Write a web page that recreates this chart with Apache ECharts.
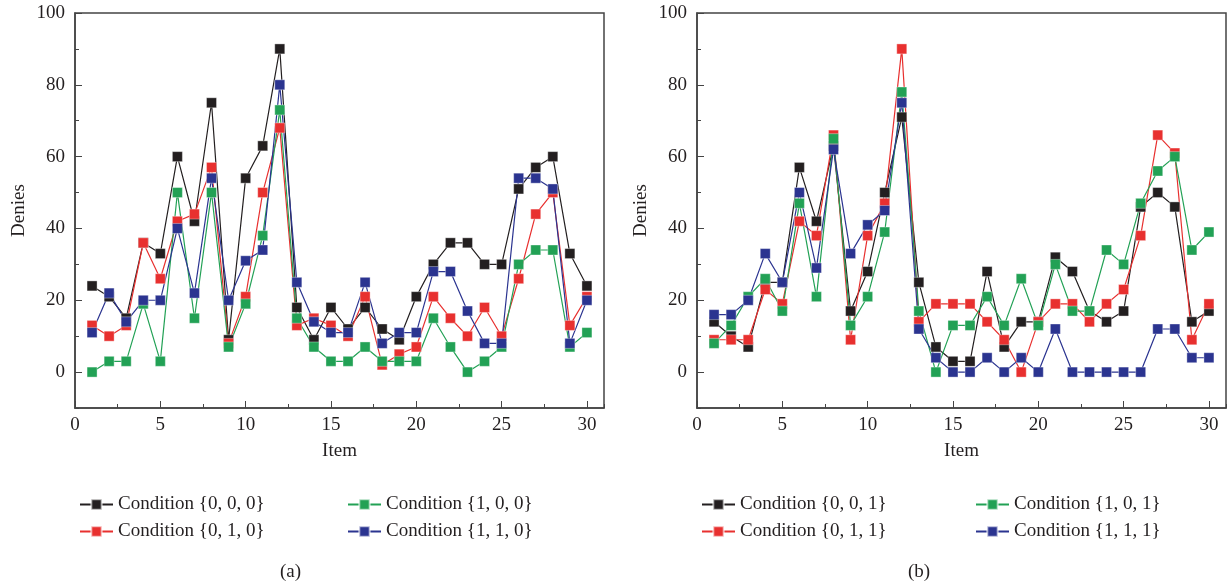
<!DOCTYPE html>
<html>
<head>
<meta charset="utf-8">
<script src="https://cdn.jsdelivr.net/npm/echarts@6/dist/echarts.min.js"></script>
<style>
  html, body { margin: 0; padding: 0; background: #fff; }
  #main { width: 1228px; height: 584px; }
</style>
</head>
<body>
<div id="main"></div>
<script>
// x positions (items)
const items = [1, 2, 3, 4, 5, 6, 7, 8, 9, 10, 11, 12, 13, 14, 15, 16, 17, 18, 19, 20, 21, 22, 23, 24, 25, 26, 27, 28, 29, 30]
const yTicks = [0, 20, 40, 60, 80, 100]
const xTicks = [0, 5, 10, 15, 20, 25, 30]

// panel (a)
const c000 = [24, 21, 15, 36, 33, 60, 42, 75, 9, 54, 63, 90, 18, 9, 18, 12, 18, 12, 9, 21, 30, 36, 36, 30, 30, 51, 57, 60, 33, 24]
const c010 = [13, 10, 13, 36, 26, 42, 44, 57, 8, 21, 50, 68, 13, 15, 13, 10, 21, 2, 5, 7, 21, 15, 10, 18, 10, 26, 44, 50, 13, 21]
const c100 = [0, 3, 3, 19, 3, 50, 15, 50, 7, 19, 38, 73, 15, 7, 3, 3, 7, 3, 3, 3, 15, 7, 0, 3, 7, 30, 34, 34, 7, 11]
const c110 = [11, 22, 14, 20, 20, 40, 22, 54, 20, 31, 34, 80, 25, 14, 11, 11, 25, 8, 11, 11, 28, 28, 17, 8, 8, 54, 54, 51, 8, 20]

// panel (b)
const c001 = [14, 10, 7, 25, 25, 57, 42, 63, 17, 28, 50, 71, 25, 7, 3, 3, 28, 7, 14, 14, 32, 28, 17, 14, 17, 46, 50, 46, 14, 17]
const c011 = [9, 9, 9, 23, 19, 42, 38, 66, 9, 38, 47, 90, 14, 19, 19, 19, 14, 9, 0, 14, 19, 19, 14, 19, 23, 38, 66, 61, 9, 19]
const c101 = [8, 13, 21, 26, 17, 47, 21, 65, 13, 21, 39, 78, 17, 0, 13, 13, 21, 13, 26, 13, 30, 17, 17, 34, 30, 47, 56, 60, 34, 39]
const c111 = [16, 16, 20, 33, 25, 50, 29, 62, 33, 41, 45, 75, 12, 4, 0, 0, 4, 0, 4, 0, 12, 0, 0, 0, 0, 0, 12, 12, 4, 4]

const namesA = ['Condition {0, 0, 0}', 'Condition {0, 1, 0}', 'Condition {1, 0, 0}', 'Condition {1, 1, 0}']
const namesB = ['Condition {0, 0, 1}', 'Condition {0, 1, 1}', 'Condition {1, 0, 1}', 'Condition {1, 1, 1}']
const colors = ['#231f20', '#e8302f', '#22a155', '#2b3490']

const font = 'Liberation Serif'
const ink = '#231f20'

const grids = [
  { left: 75, top: 13, width: 529, height: 395 },
  { left: 697, top: 13, width: 529, height: 395 }
]

let xAxis = []
let yAxis = []
grids.forEach((g, i) => {
  // main axes
  xAxis.push({
    type: 'value', gridIndex: i, min: 0, max: 31, position: 'bottom',
    name: 'Item', nameLocation: 'middle', nameGap: 34,
    nameTextStyle: { fontFamily: font, fontSize: 19, color: ink },
    axisLine: { onZero: false, lineStyle: { color: '#444', width: 1.5 } },
    axisTick: { inside: true, length: 7, customValues: xTicks, lineStyle: { color: '#444' } },
    axisLabel: { customValues: xTicks, fontFamily: font, fontSize: 19, color: ink, margin: 8 },
    splitLine: { show: false }
  })
  // minor ticks
  xAxis.push({
    type: 'value', gridIndex: i, min: 0, max: 31, interval: 2.5, position: 'bottom',
    axisLine: { show: false, onZero: false },
    axisTick: { inside: true, length: 4, lineStyle: { color: '#444' } },
    axisLabel: { show: false },
    splitLine: { show: false }
  })
  yAxis.push({
    type: 'value', gridIndex: i, min: -10, max: 100, position: 'left',
    name: 'Denies', nameLocation: 'middle', nameGap: 46, nameRotate: 90,
    nameTextStyle: { fontFamily: font, fontSize: 19, color: ink },
    axisLine: { show: true, onZero: false, lineStyle: { color: '#444', width: 1.5 } },
    axisTick: { show: true, inside: true, length: 7, customValues: yTicks, lineStyle: { color: '#444' } },
    axisLabel: { customValues: yTicks, fontFamily: font, fontSize: 19, color: ink, margin: 10 },
    splitLine: { show: false }
  })
  yAxis.push({
    type: 'value', gridIndex: i, min: -10, max: 100, interval: 10, position: 'left',
    axisLine: { show: false, onZero: false },
    axisTick: { show: true, inside: true, length: 4, lineStyle: { color: '#444' } },
    axisLabel: { show: false },
    splitLine: { show: false }
  })
})

const makeSeries = (name, vals, k, panel) => ({
  name: name,
  type: 'line',
  xAxisIndex: panel * 2,
  yAxisIndex: panel * 2,
  data: items.map((x, j) => [x, vals[j]]),
  symbol: 'rect',
  symbolSize: 10,
  color: colors[k],
  lineStyle: { width: 1.2, color: colors[k] },
  itemStyle: { color: colors[k], borderColor: 'rgba(255,255,255,0.6)', borderWidth: 0.6 },
  animation: false
})

const valsA = [c000, c010, c100, c110]
const valsB = [c001, c011, c101, c111]
let series = []
namesA.forEach((n, k) => series.push(makeSeries(n, valsA[k], k, 0)))
namesB.forEach((n, k) => series.push(makeSeries(n, valsB[k], k, 1)))

// legend: two columns per panel (black/green top row, red/blue bottom row)
const legendSlots = [[0, 0], [1, 0], [0, 1], [1, 1]] // [row, col] for k = 0..3
const legendCols = [[74, 342], [696, 970]]
const legendRows = [490, 517]
let legend = []
;[namesA, namesB].forEach((names, p) => {
  names.forEach((n, k) => {
    const [r, c] = legendSlots[k]
    legend.push({
      data: [n], left: legendCols[p][c], top: legendRows[r],
      itemWidth: 33, itemHeight: 13,
      textStyle: { fontFamily: font, fontSize: 19, color: ink },
      selectedMode: false
    })
  })
})

const option = {
  backgroundColor: '#fff',
  animation: false,
  grid: grids.map(g => Object.assign({ show: true, borderColor: '#444', borderWidth: 1.5, backgroundColor: 'transparent' }, g)),
  xAxis: xAxis,
  yAxis: yAxis,
  legend: legend,
  title: [
    { text: '(a)', left: 275, top: 558, textStyle: { fontFamily: font, fontSize: 19, fontWeight: 'normal', color: ink } },
    { text: '(b)', left: 903, top: 558, textStyle: { fontFamily: font, fontSize: 19, fontWeight: 'normal', color: ink } }
  ],
  series: series
}

let chart = echarts.init(document.getElementById('main'))
chart.setOption(option)
</script>
</body>
</html>
